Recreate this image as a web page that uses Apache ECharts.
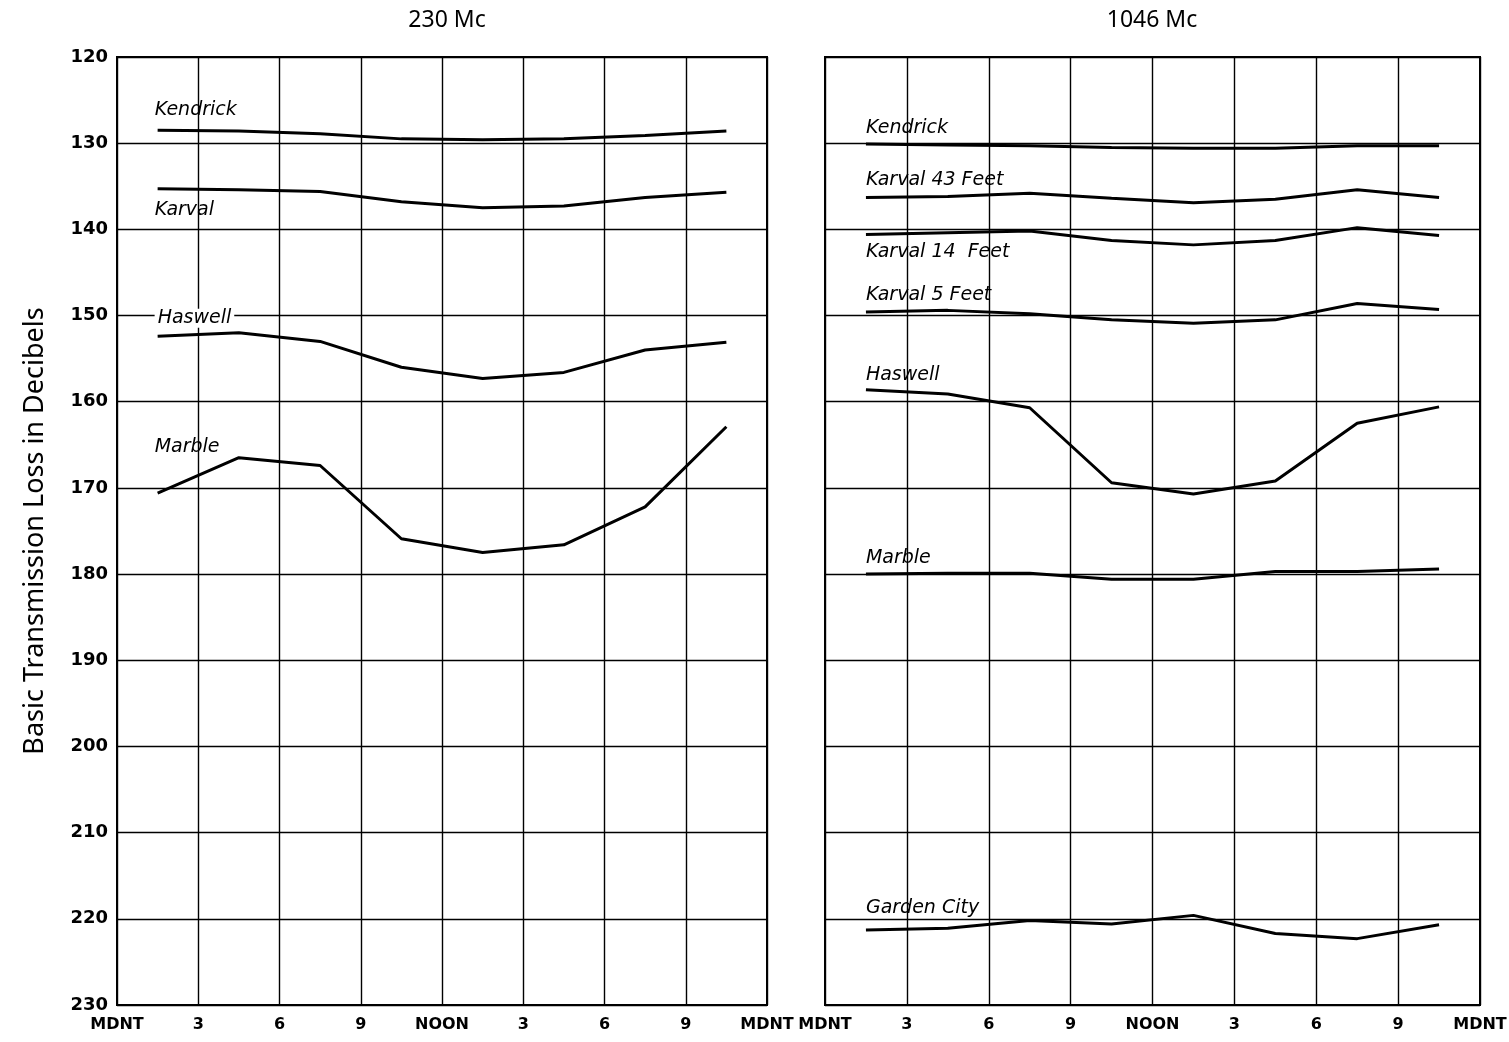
<!DOCTYPE html>
<html>
<head>
<meta charset="utf-8">
<title>Basic Transmission Loss</title>
<script src="https://cdn.jsdelivr.net/npm/echarts@6/dist/echarts.min.js"></script>
<style>
  html, body { margin: 0; padding: 0; background: #fff; }
  #chart { width: 1509px; height: 1042px; }
</style>
</head>
<body>
<div id="chart"></div>
<script>
// hours of day where the hourly medians were plotted
const hours = [1.5, 4.5, 7.5, 10.5, 13.5, 16.5, 19.5, 22.5]
const xTicks = { 0: 'MDNT', 3: '3', 6: '6', 9: '9', 12: 'NOON', 15: '3', 18: '6', 21: '9', 24: 'MDNT' }
const panelTitles = ['230 Mc', '1046 Mc']

// 230 Mc
const names230 = ['Kendrick', 'Karval', 'Haswell', 'Marble']
const kendrick230 = [128.5, 128.6, 128.9, 129.5, 129.6, 129.5, 129.1, 128.6]
const karval230 = [135.3, 135.4, 135.6, 136.8, 137.5, 137.3, 136.3, 135.7]
const haswell230 = [152.4, 152.0, 153.0, 156.0, 157.3, 156.6, 154.0, 153.1]
const marble230 = [170.6, 166.5, 167.4, 175.9, 177.5, 176.6, 172.2, 162.9]

// 1046 Mc
const names1046 = ['Kendrick', 'Karval 43 Feet', 'Karval 14  Feet', 'Karval 5 Feet', 'Haswell', 'Marble', 'Garden City']
const kendrick1046 = [130.1, 130.2, 130.3, 130.5, 130.6, 130.6, 130.3, 130.3]
const karval43 = [136.3, 136.2, 135.8, 136.4, 136.9, 136.5, 135.4, 136.3]
const karval14 = [140.6, 140.4, 140.2, 141.3, 141.8, 141.3, 139.8, 140.7]
const karval5 = [149.6, 149.4, 149.8, 150.5, 150.9, 150.5, 148.6, 149.3]
const haswell1046 = [158.6, 159.1, 160.7, 169.4, 170.7, 169.2, 162.5, 160.6]
const marble1046 = [180.0, 179.9, 179.9, 180.6, 180.6, 179.7, 179.7, 179.4]
const gardenCity = [221.3, 221.1, 220.2, 220.6, 219.6, 221.7, 222.3, 220.7]

const labelFont = '"DejaVu Sans", sans-serif'
const tickFont = '"DejaVu Sans", sans-serif'

const chart = echarts.init(document.getElementById('chart'))

// one curve, name written next to its first point
function curve(name, values, idx, dx, dy, bg) {
  const data = values.map((v, i) => [hours[i], v])
  data[0] = {
    value: data[0],
    label: {
      show: true,
      formatter: name,
      position: 'inside',
      align: 'left',
      verticalAlign: 'middle',
      offset: [dx, dy],
      fontFamily: labelFont,
      fontStyle: 'italic',
      fontSize: 19,
      color: '#000',
      backgroundColor: bg ? '#fff' : 'transparent',
      padding: bg ? [0, 3] : 0
    }
  }
  return {
    name: name,
    type: 'line',
    xAxisIndex: idx,
    yAxisIndex: idx,
    data: data,
    symbol: 'circle',
    symbolSize: 0,
    showSymbol: true,
    silent: true,
    z: 5,
    lineStyle: { color: '#000', width: 3 }
  }
}

const gridLine = { lineStyle: { color: '#000', width: 1.4 } }

function xAxis(idx) {
  return {
    type: 'value',
    gridIndex: idx,
    min: 0,
    max: 24,
    interval: 3,
    axisLine: { lineStyle: { color: '#000', width: 2 } },
    axisTick: { show: false },
    splitLine: gridLine,
    axisLabel: {
      formatter: v => xTicks[v],
      color: '#000',
      fontFamily: tickFont,
      fontWeight: 'bold',
      fontSize: 16,
      margin: 12
    }
  }
}

function yAxis(idx) {
  const ax = {
    type: 'value',
    gridIndex: idx,
    inverse: true,
    min: 120,
    max: 230,
    interval: 10,
    axisLine: { lineStyle: { color: '#000', width: 2 } },
    axisTick: { show: false },
    splitLine: gridLine,
    axisLabel: { show: false }
  }
  if (idx === 0) {
    ax.axisLabel = {
      show: true,
      color: '#000',
      fontFamily: tickFont,
      fontWeight: 'bold',
      fontSize: 18,
      margin: 9
    }
    ax.name = 'Basic Transmission Loss in Decibels'
    ax.nameLocation = 'middle'
    ax.nameGap = 68
    ax.nameTextStyle = {
      color: '#000',
      fontFamily: '"Noto Sans", sans-serif',
      fontSize: 27
    }
  }
  return ax
}

const titleStyle = { color: '#000', fontFamily: '"Noto Sans", sans-serif', fontWeight: 'normal', fontSize: 23 }

const option = {
  backgroundColor: '#fff',
  animation: false,
  title: [
    { text: panelTitles[0], left: 442, top: 4, textAlign: 'center', textStyle: titleStyle },
    { text: panelTitles[1], left: 1147, top: 4, textAlign: 'center', textStyle: titleStyle }
  ],
  grid: [
    { left: 117, right: 742, top: 57, bottom: 37, outerBoundsMode: 'none', show: true, borderColor: '#000', borderWidth: 2, backgroundColor: 'transparent' },
    { left: 825, right: 29, top: 57, bottom: 37, outerBoundsMode: 'none', show: true, borderColor: '#000', borderWidth: 2, backgroundColor: 'transparent' }
  ],
  xAxis: [xAxis(0), xAxis(1)],
  yAxis: [yAxis(0), yAxis(1)],
  series: [
    curve(names230[0], kendrick230, 0, -3, -20),
    curve(names230[1], karval230, 0, -3, 21),
    curve(names230[2], haswell230, 0, -3, -18, true),
    curve(names230[3], marble230, 0, -3, -46),
    curve(names1046[0], kendrick1046, 1, 0, -16),
    curve(names1046[1], karval43, 1, 0, -17),
    curve(names1046[2], karval14, 1, 0, 18),
    curve(names1046[3], karval5, 1, 0, -17),
    curve(names1046[4], haswell1046, 1, 0, -15),
    curve(names1046[5], marble1046, 1, 0, -16),
    curve(names1046[6], gardenCity, 1, 0, -22)
  ]
}

chart.setOption(option)
</script>
</body>
</html>
